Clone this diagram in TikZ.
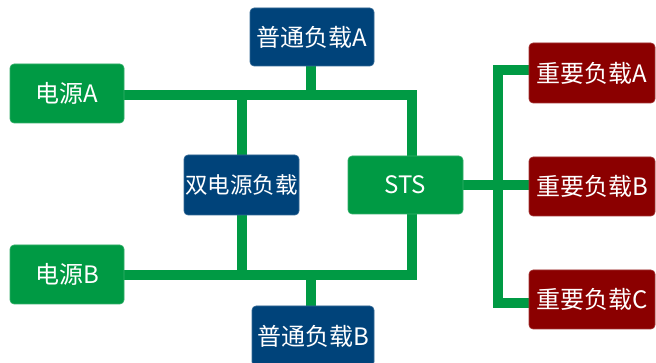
\documentclass[tikz,border=0pt]{standalone}
\usepackage{fontspec}
\setmainfont{Noto Sans CJK SC}
\definecolor{lgreen}{RGB}{0,154,68}
\definecolor{lblue}{RGB}{0,67,122}
\definecolor{lred}{RGB}{139,0,0}
\tikzset{
  box/.style={rectangle, rounded corners=4pt, text=white, inner sep=0pt,
    font=\fontsize{24}{28}\selectfont, draw=#1!80!white, line width=0.6pt, fill=#1},
  wire/.style={draw=lgreen, line width=10pt},
}
\begin{document}
\begin{tikzpicture}[x=1pt,y=-1pt]
\useasboundingbox (0,0) rectangle (656,363);
% wires first
\coordinate (tl) at (124,95);
\coordinate (tr) at (412,95);
\coordinate (bl) at (124,275);
\coordinate (br) at (412,275);
\coordinate (vt) at (498,70);
\coordinate (vb) at (498,303);
\draw[wire] (tl) -- (tr) -- (412,156);
\draw[wire] (bl) -- (br) -- (412,214);
\draw[wire] (311,95) -- (311,66);
\draw[wire] (242,95) -- (242,155);
\draw[wire] (242,275) -- (242,215);
\draw[wire] (311,275) -- (311,306);
\draw[wire] (463,185) -- (529,185);
\draw[wire] (529,70) -- (vt) -- (vb) -- (529,303);
% nodes
\node[box=lgreen, minimum width=114pt, minimum height=59pt] (pa) at (67,93.5) {电源A};
\node[box=lgreen, minimum width=114pt, minimum height=59pt] (pb) at (67,274.5) {电源B};
\node[box=lblue, minimum width=124pt, minimum height=58pt] (la) at (312,37) {普通负载A};
\node[box=lblue, minimum width=122pt, minimum height=60pt] (lb) at (313,336) {普通负载B};
\node[box=lblue, minimum width=115pt, minimum height=60pt, font=\fontsize{22.5}{26}\selectfont] (dual) at (241.5,185) {双电源负载};
\node[box=lgreen, minimum width=115pt, minimum height=58pt] (sts) at (405.5,185) {STS};
\node[box=lred, minimum width=126pt, minimum height=60pt] (ia) at (592,73) {重要负载A};
\node[box=lred, minimum width=126pt, minimum height=59pt] (ib) at (592,186.5) {重要负载B};
\node[box=lred, minimum width=126pt, minimum height=59pt] (ic) at (592,299.5) {重要负载C};
\end{tikzpicture}
\end{document}
